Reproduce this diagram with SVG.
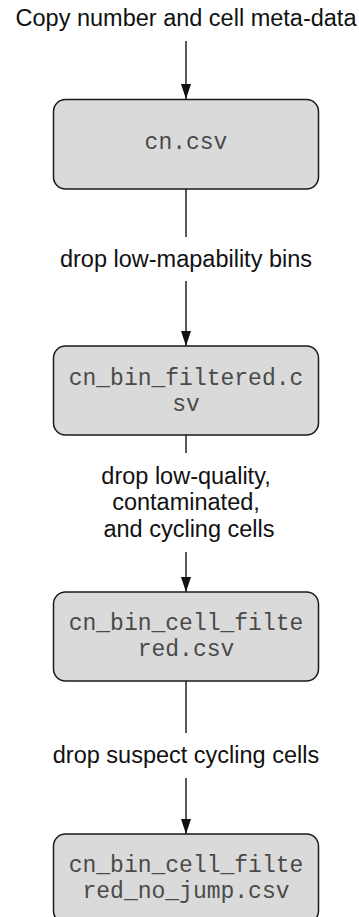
<svg xmlns="http://www.w3.org/2000/svg" width="359" height="917" viewBox="0 0 359 917">
<style>
.bg{fill:#ffffff}
.box{fill:#dadada;stroke:#1a1a1a;stroke-width:1.5}
.mono{font-family:"Liberation Mono","DejaVu Sans Mono",monospace;font-size:23px;fill:#4a4a4a;text-anchor:middle}
.lbl{font-family:"Liberation Sans",Arial,sans-serif;font-size:23.5px;fill:#111111;text-anchor:middle}
.ln{stroke:#222222;stroke-width:1.5;fill:none}
</style>
<defs>
<marker id="ah" markerWidth="15" markerHeight="10" refX="15" refY="5" orient="auto" markerUnits="userSpaceOnUse" viewBox="0 0 15 10">
<path d="M0,0 L15,5 L0,10 Z" fill="#111111"/>
</marker>
</defs>
<rect class="bg" x="0" y="0" width="359" height="917"/>
<g id="connectors">
<text class="lbl" x="186" y="26">Copy number and cell meta-data</text>
<line class="ln" x1="186" y1="41" x2="186" y2="99" marker-end="url(#ah)"/>
<line class="ln" x1="186" y1="189" x2="186" y2="237"/>
<text class="lbl" x="186" y="267">drop low-mapability bins</text>
<line class="ln" x1="186" y1="281" x2="186" y2="346" marker-end="url(#ah)"/>
<line class="ln" x1="186" y1="435" x2="186" y2="453"/>
<text class="lbl" x="186" y="484">drop low-quality,</text>
<text class="lbl" x="186" y="510">contaminated,</text>
<text class="lbl" x="189" y="537">and cycling cells</text>
<line class="ln" x1="186" y1="552" x2="186" y2="592" marker-end="url(#ah)"/>
<line class="ln" x1="186" y1="681" x2="186" y2="733"/>
<text class="lbl" x="186" y="763">drop suspect cycling cells</text>
<line class="ln" x1="186" y1="778" x2="186" y2="834" marker-end="url(#ah)"/>
</g>
<g id="cn">
<rect class="box" x="53.5" y="99.5" width="265" height="89.5" rx="12"/>
<text class="mono" x="186" y="149">cn.csv</text>
</g>
<g id="cn_bin_filtered">
<rect class="box" x="53.5" y="346" width="265" height="89" rx="12"/>
<text class="mono" x="186" y="385">cn_bin_filtered.c</text>
<text class="mono" x="186" y="411">sv</text>
</g>
<g id="cn_bin_cell_filtered">
<rect class="box" x="53.5" y="592" width="265" height="89" rx="12"/>
<text class="mono" x="186" y="630">cn_bin_cell_filte</text>
<text class="mono" x="186" y="656">red.csv</text>
</g>
<g id="cn_bin_cell_filtered_no_jump">
<rect class="box" x="53.5" y="834" width="265" height="89" rx="12"/>
<text class="mono" x="186" y="872">cn_bin_cell_filte</text>
<text class="mono" x="186" y="898">red_no_jump.csv</text>
</g>
</svg>
